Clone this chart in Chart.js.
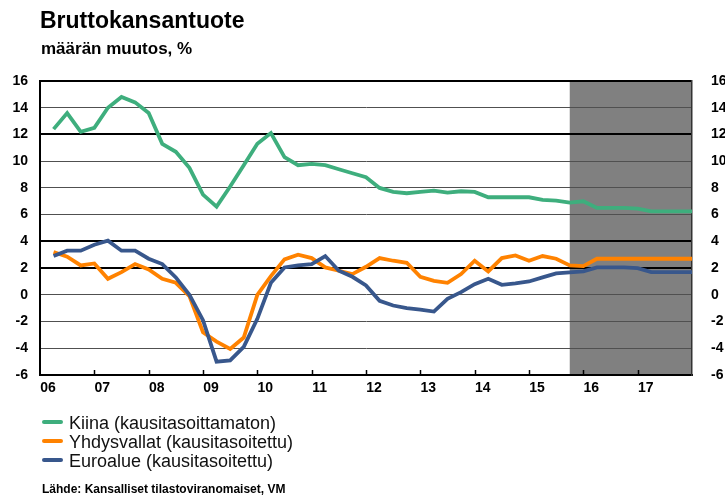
<!DOCTYPE html>
<html>
<head>
<meta charset="utf-8">
<script src="https://cdn.jsdelivr.net/npm/chart.js@4.4.1/dist/chart.umd.min.js"></script>
<style>
  html, body { margin: 0; padding: 0; background: #fff; }
  body { width: 725px; height: 495px; position: relative; overflow: hidden; font-family: "Liberation Sans", Arial, sans-serif; color: #000; }
  #c { position: absolute; left: 0; top: 0; }
  .title { position: absolute; left: 40px; top: 9px; font-size: 23px; line-height: 1; font-weight: bold; }
  .sub { position: absolute; left: 41px; top: 40px; font-size: 17px; line-height: 1; font-weight: bold; }
  .legend { position: absolute; left: 42px; top: 414px; font-size: 18px; line-height: 19px; color: #111; }
  .legend div { position: relative; padding-left: 27px; white-space: nowrap; }
  .legend span { position: absolute; left: 0; top: 6px; width: 21px; height: 4px; border-radius: 2px; }
  .source { position: absolute; left: 42px; top: 483px; font-size: 12px; line-height: 1; font-weight: bold; }
</style>
</head>
<body>
<canvas id="c" width="725" height="495"></canvas>
<div class="title">Bruttokansantuote</div>
<div class="sub">määrän muutos, %</div>
<div class="legend" id="legend"></div>
<div class="source">Lähde: Kansalliset tilastoviranomaiset, VM</div>
<script>
// quarterly data 2006Q1 - 2017Q4, forecast from 2015Q4
const startYear = 2006;
const yearLabels = ['06', '07', '08', '09', '10', '11', '12', '13', '14', '15', '16', '17'];
const forecastFrom = 2015.75;

const kiina = [12.4, 13.6, 12.2, 12.5, 14.0, 14.8, 14.4, 13.6, 11.3, 10.7, 9.5, 7.5,
               6.6, 8.1, 9.7, 11.3, 12.1, 10.3, 9.7, 9.8, 9.7, 9.4, 9.1, 8.8,
               8.0, 7.7, 7.6, 7.7, 7.8, 7.65, 7.75, 7.7, 7.3, 7.3, 7.3, 7.3,
               7.1, 7.05, 6.9, 7.0, 6.5, 6.5, 6.5, 6.45, 6.25, 6.25, 6.25, 6.25];
const yhdysvallat = [3.2, 2.85, 2.2, 2.35, 1.2, 1.7, 2.3, 1.9, 1.2, 0.9, -0.1, -2.8,
                     -3.5, -4.05, -3.2, 0.0, 1.4, 2.65, 3.0, 2.75, 2.05, 1.8, 1.55, 2.1,
                     2.75, 2.55, 2.4, 1.35, 1.05, 0.9, 1.55, 2.55, 1.75, 2.75, 2.95, 2.55,
                     2.9, 2.7, 2.2, 2.15, 2.7, 2.7, 2.7, 2.7, 2.7, 2.7, 2.7, 2.7];
const euroalue = [2.9, 3.3, 3.3, 3.75, 4.05, 3.3, 3.3, 2.7, 2.3, 1.3, 0.0, -1.9,
                  -5.0, -4.9, -3.9, -1.8, 0.9, 2.05, 2.2, 2.3, 2.9, 1.8, 1.35, 0.7,
                  -0.45, -0.8, -1.0, -1.1, -1.25, -0.3, 0.2, 0.8, 1.2, 0.75, 0.85, 1.0,
                  1.3, 1.6, 1.68, 1.75, 2.05, 2.05, 2.05, 2.0, 1.7, 1.7, 1.7, 1.7];

const seriesNames = ['Kiina (kausitasoittamaton)', 'Yhdysvallat (kausitasoitettu)', 'Euroalue (kausitasoitettu)'];
const seriesColors = ['#3eae7d', '#ff8200', '#38578c'];

const toPoints = arr => arr.map((v, i) => ({ x: startYear + (i + 1) / 4, y: v }));

const tickFont = { family: '"Liberation Sans", Arial, sans-serif', size: 14, weight: 'bold' };

const forecastShade = {
    id: 'forecastShade',
    beforeDraw(chart) {
        const { ctx, chartArea: a, scales: { x } } = chart;
        const left = x.getPixelForValue(forecastFrom);
        ctx.save();
        ctx.fillStyle = '#808080';
        ctx.fillRect(left, a.top, a.right - left, a.bottom - a.top);
        ctx.restore();
    }
};

// small tick marks inside the plot, on year boundaries
const innerTicks = {
    id: 'innerTicks',
    afterDraw(chart) {
        const { ctx, chartArea: a, scales: { x } } = chart;
        ctx.save();
        ctx.strokeStyle = '#000';
        ctx.lineWidth = 1.5;
        x.ticks.slice(1, -1).forEach(t => {
            const px = Math.round(x.getPixelForValue(t.value)) + 0.5;
            ctx.beginPath();
            ctx.moveTo(px, a.bottom);
            ctx.lineTo(px, a.bottom - 5);
            ctx.stroke();
        });
        ctx.restore();
    }
};

const datasets = [kiina, yhdysvallat, euroalue].map((arr, i) => ({
    label: seriesNames[i],
    data: toPoints(arr),
    borderColor: seriesColors[i],
    borderWidth: 3.8,
    pointRadius: 0,
    tension: 0,
    order: 3 - i
}));

new Chart(document.getElementById('c').getContext('2d'), {
    type: 'line',
    data: { datasets: datasets },
    options: {
        responsive: false,
        animation: false,
        devicePixelRatio: 1,
        layout: { padding: { top: 81, left: 0, right: 0, bottom: 0 } },
        plugins: { legend: { display: false }, tooltip: { enabled: false } },
        scales: {
            x: {
                type: 'linear',
                min: 2006,
                max: 2018,
                afterFit(s) { s.height = 120; },
                ticks: {
                    stepSize: 1,
                    autoSkip: false,
                    maxRotation: 0,
                    labelOffset: 8,
                    padding: 5,
                    color: '#000',
                    font: tickFont,
                    callback: (v, i) => yearLabels[i] || ''
                },
                grid: { drawOnChartArea: false, drawTicks: false },
                border: { display: true, color: '#000', width: 2 }
            },
            y: {
                min: -6,
                max: 16,
                afterFit(s) { s.width = 40; },
                ticks: { stepSize: 2, padding: 12, color: '#000', font: tickFont },
                grid: {
                    drawTicks: false,
                    color: c => [16, 12, 4, 2].includes(c.tick.value) ? '#000' : '#505050',
                    lineWidth: c => [16, 12, 4, 2].includes(c.tick.value) ? 2 : 1
                },
                border: { display: true, color: '#000', width: 2 }
            },
            y2: {
                position: 'right',
                min: -6,
                max: 16,
                afterFit(s) { s.width = 33; },
                ticks: { stepSize: 2, padding: 19, color: '#000', font: tickFont },
                grid: { display: false, drawTicks: false },
                border: { display: true, color: '#333', width: 1.5 }
            }
        }
    },
    plugins: [forecastShade, innerTicks]
});

// legend as html
const legend = document.getElementById('legend');
seriesNames.forEach((name, i) => {
    const row = document.createElement('div');
    row.innerHTML = '<span style="background:' + seriesColors[i] + '"></span>' + name;
    legend.appendChild(row);
});
</script>
</body>
</html>
